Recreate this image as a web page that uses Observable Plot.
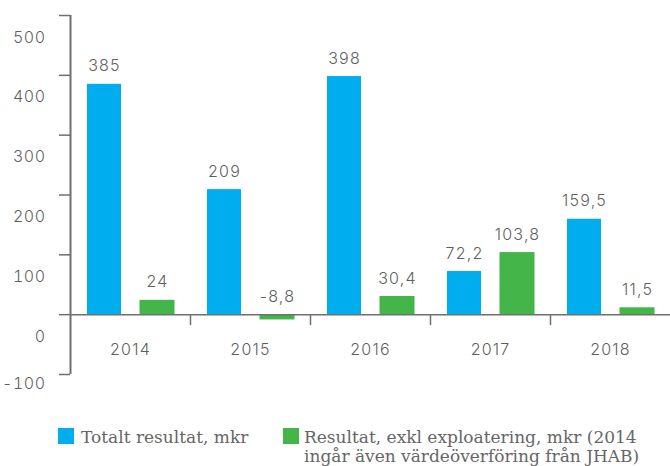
<!DOCTYPE html>
<html>
<head>
<meta charset="utf-8">
<script src="https://cdn.jsdelivr.net/npm/d3@7"></script>
<script src="https://cdn.jsdelivr.net/npm/@observablehq/plot@0.6"></script>
<style>
  body { margin: 0; background: #fff; }
  #chart { position: relative; width: 670px; }
  #chart svg g[aria-label="text"] { letter-spacing: 1.2px; }
  #chart svg g[aria-label="y-axis tick label"] { letter-spacing: 0.5px; }
  .legend { position: relative; width: 670px; height: 56px; font-family: "DejaVu Serif", serif; font-size: 17px; line-height: 19px; color: #666; }
  .legend .sw { position: absolute; width: 16px; height: 16px; top: 18px; }
  .legend .lab { position: absolute; top: 18px; }
</style>
</head>
<body>
<div id="chart"></div>
<script>
const years = [2014, 2015, 2016, 2017, 2018];
const totalt = [385, 209, 398, 72.2, 159.5];
const exkl = [24, -8.8, 30.4, 103.8, 11.5];
const yTicks = [-100, 0, 100, 200, 300, 400, 500];
const seriesNames = ["Totalt resultat, mkr", "Resultat, exkl exploatering, mkr (2014<br>ingår även värdeöverföring från JHAB)"];
const colors = ["#00aeef", "#44b649"];

const rowsA = years.map((y, i) => ({year: y, value: totalt[i], s: 0}));
const rowsB = years.map((y, i) => ({year: y, value: exkl[i], s: 1}));
const fmt = v => String(v).replace(".", ",");
const axisColor = "#6f6f6f";
const textColor = "#5f5f5f";
const xDomain = [years[0] - 0.5, years[years.length - 1] + 0.5];
const labelOpts = {tickSize: 0, tickPadding: 25, label: null, fill: textColor, fontWeight: 300, fontSize: 16, tickFormat: d => String(d)};

const chart = Plot.plot({
  width: 670,
  height: 410,
  marginLeft: 70,
  marginRight: 0,
  marginTop: 15,
  marginBottom: 36,
  x: {domain: xDomain, axis: null},
  y: {domain: [-100, 500], axis: null},
  style: {fontFamily: "Inter, Roboto, sans-serif", fontSize: "16px", color: textColor, background: "#fff", overflow: "visible"},
  marks: [
    Plot.rect(rowsA, {x1: d => d.year - 0.5, x2: d => d.year, y1: 0, y2: "value", fill: colors[0], insetLeft: 17, insetRight: 9}),
    Plot.rect(rowsB, {x1: d => d.year, x2: d => d.year + 0.5, y1: 0, y2: "value", fill: colors[1], insetLeft: 9.5, insetRight: 15.5}),
    Plot.ruleY([0], {stroke: axisColor, strokeWidth: 1.5}),
    Plot.ruleX([xDomain[0]], {stroke: axisColor, strokeWidth: 2}),
    // y tick marks (left of axis line)
    Plot.ruleY(yTicks, {y: d => d, x1: xDomain[0], x2: xDomain[0], insetLeft: -11, stroke: axisColor, strokeWidth: 1.5}),
    // y tick labels, set below their ticks as in the original
    Plot.axisY({...labelOpts, ticks: yTicks.filter(t => t >= 0), dy: 22}),
    Plot.axisY({...labelOpts, ticks: yTicks.filter(t => t < 0), dy: 9}),
    // category boundary ticks under the zero line
    Plot.ruleX(years.slice(1).map(y => y - 0.5), {y1: 0, y2: 0, insetBottom: -11, stroke: axisColor, strokeWidth: 1.5}),
    Plot.text(years, {x: d => d, y: () => 0, dy: 35, text: d => String(d), fill: textColor, fontWeight: 300, fontSize: 16}),
    Plot.text(rowsA, {x: d => d.year - 0.25, y: d => Math.max(0, d.value), dx: 4, dy: -18, text: d => fmt(d.value), fill: textColor, fontWeight: 300, fontSize: 16}),
    Plot.text(rowsB, {x: d => d.year + 0.25, y: d => Math.max(0, d.value), dx: -3, dy: -18, text: d => fmt(d.value), fill: textColor, fontWeight: 300, fontSize: 16})
  ]
});
document.getElementById("chart").appendChild(chart);

const legend = document.createElement("div");
legend.className = "legend";
legend.innerHTML =
  `<div class="sw" style="left:58px;background:${colors[0]}"></div>` +
  `<div class="lab" style="left:81px">${seriesNames[0]}</div>` +
  `<div class="sw" style="left:283px;background:${colors[1]}"></div>` +
  `<div class="lab" style="left:304px;white-space:nowrap">${seriesNames[1]}</div>`;
document.getElementById("chart").appendChild(legend);
</script>
</body>
</html>
